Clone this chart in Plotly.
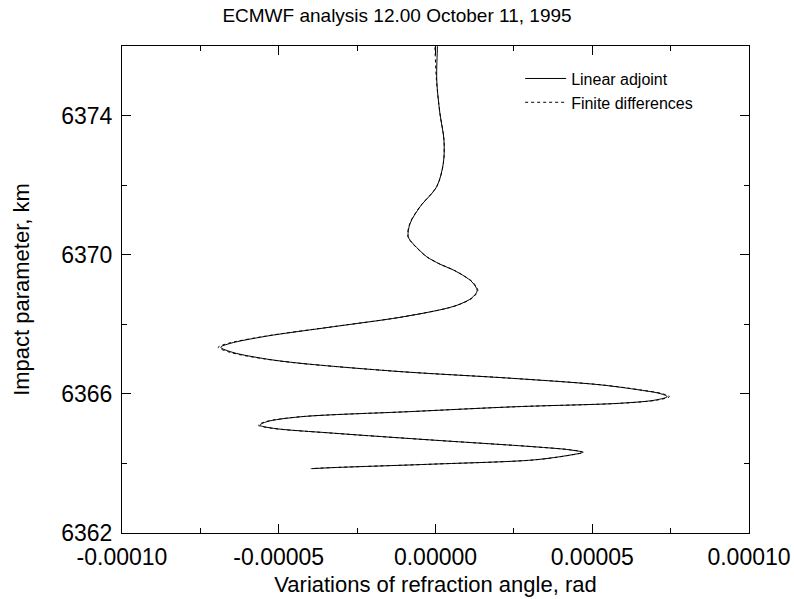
import plotly.graph_objects as go

# Impact parameter (km), ordered from top to bottom of the profile
impact_km = [6376.30, 6375.98, 6375.02, 6374.07, 6373.30, 6372.63, 6371.96, 6371.38,
             6370.90, 6370.52, 6370.31, 6370.11, 6369.94, 6369.73, 6369.56, 6369.37,
             6369.22, 6368.97, 6368.76, 6368.58, 6368.46, 6368.20, 6367.93, 6367.66,
             6367.45, 6367.34, 6367.19, 6367.00, 6366.88, 6366.64, 6366.45, 6366.26,
             6366.11, 6366.01, 6365.92, 6365.82, 6365.73, 6365.63, 6365.49, 6365.34,
             6365.20, 6365.10, 6365.01, 6364.87, 6364.67, 6364.48, 6364.39, 6364.32,
             6364.24, 6364.10, 6363.98, 6363.88, 6363.85]

# Variations of refraction angle (rad)
linear_adjoint = [0.06e-5, 0.06e-5, 0.04e-5, 0.14e-5, 0.27e-5, 0.25e-5, 0.04e-5, -0.49e-5,
                  -0.81e-5, -0.87e-5, -0.71e-5, -0.49e-5, -0.28e-5, 0.14e-5, 0.57e-5, 0.94e-5,
                  1.16e-5, 1.33e-5, 1.16e-5, 0.78e-5, 0.36e-5, -1.13e-5, -3.26e-5, -5.38e-5,
                  -6.55e-5, -6.85e-5, -6.46e-5, -5.38e-5, -4.32e-5, -1.13e-5, 2.38e-5, 5.25e-5,
                  6.52e-5, 7.16e-5, 7.39e-5, 7.00e-5, 5.89e-5, 2.55e-5, -0.80e-5, -4.32e-5,
                  -5.38e-5, -5.60e-5, -5.17e-5, -3.26e-5, -0.07e-5, 3.12e-5, 4.29e-5, 4.69e-5,
                  4.29e-5, 3.12e-5, -0.07e-5, -3.26e-5, -3.95e-5]

finite_differences = [-0.04e-5, -0.02e-5, 0.03e-5, 0.14e-5, 0.27e-5, 0.25e-5, 0.04e-5, -0.50e-5,
                      -0.82e-5, -0.88e-5, -0.72e-5, -0.50e-5, -0.28e-5, 0.14e-5, 0.58e-5, 0.95e-5,
                      1.18e-5, 1.35e-5, 1.18e-5, 0.79e-5, 0.36e-5, -1.14e-5, -3.28e-5, -5.42e-5,
                      -6.62e-5, -6.93e-5, -6.54e-5, -5.42e-5, -4.34e-5, -1.13e-5, 2.39e-5, 5.28e-5,
                      6.56e-5, 7.21e-5, 7.46e-5, 7.06e-5, 5.93e-5, 2.56e-5, -0.81e-5, -4.34e-5,
                      -5.42e-5, -5.65e-5, -5.21e-5, -3.28e-5, -0.07e-5, 3.13e-5, 4.31e-5, 4.72e-5,
                      4.31e-5, 3.13e-5, -0.07e-5, -3.30e-5, -3.98e-5]

x_tick_vals = [-0.0001, -0.00005, 0.0, 0.00005, 0.0001]
x_tick_text = ["-0.00010", "-0.00005", "0.00000", "0.00005", "0.00010"]
y_tick_vals = [6362, 6366, 6370, 6374]
y_tick_text = ["6362", "6366", "6370", "6374"]

FONT = "Liberation Sans, Arial, Helvetica, sans-serif"

fig = go.Figure()
fig.add_trace(go.Scatter(
    x=linear_adjoint, y=impact_km, mode="lines", name="Linear adjoint",
    line=dict(color="black", width=1, shape="spline", smoothing=0.9),
))
fig.add_trace(go.Scatter(
    x=finite_differences, y=impact_km, mode="lines", name="Finite differences",
    line=dict(color="black", width=1, dash="dot", shape="spline", smoothing=0.9),
))

axis_common = dict(
    showgrid=False, zeroline=False, showline=True, linecolor="black", linewidth=1,
    mirror="ticks", ticks="inside", ticklen=9, tickwidth=1, tickcolor="black",
    tickfont=dict(family=FONT, size=23, color="black"), automargin=False,
)

fig.update_xaxes(
    **axis_common,
    range=[-0.0001, 0.0001], tickmode="array", tickvals=x_tick_vals, ticktext=x_tick_text,
    minor=dict(ticks="inside", ticklen=5, tick0=-0.0001, dtick=0.000025,
               tickcolor="black", showgrid=False),
    ticklabelstandoff=3,
    title=dict(text="Variations of refraction angle, rad",
               font=dict(family=FONT, size=22, color="black"), standoff=8),
)
fig.update_yaxes(
    **axis_common,
    range=[6362, 6376], tickmode="array", tickvals=y_tick_vals, ticktext=y_tick_text,
    minor=dict(ticks="inside", ticklen=5, tick0=6362, dtick=2, tickcolor="black", showgrid=False),
    ticklabelstandoff=4,
    title=dict(text="Impact parameter, km",
               font=dict(family=FONT, size=22, color="black"), standoff=25),
)

fig.update_layout(
    width=794, height=599,
    margin=dict(l=122, r=45, t=46, b=66, autoexpand=False),
    paper_bgcolor="white", plot_bgcolor="white",
    title=dict(text="ECMWF analysis 12.00 October 11, 1995",
               font=dict(family=FONT, size=19, color="black"),
               x=0.5, xanchor="center", y=0.985, yanchor="top"),
    showlegend=True,
    legend=dict(x=0.635, y=0.968, xanchor="left", yanchor="top",
                bgcolor="rgba(0,0,0,0)", borderwidth=0,
                font=dict(family=FONT, size=16, color="black"),
                tracegroupgap=0, itemwidth=41),
)

fig.write_html("out.html")
